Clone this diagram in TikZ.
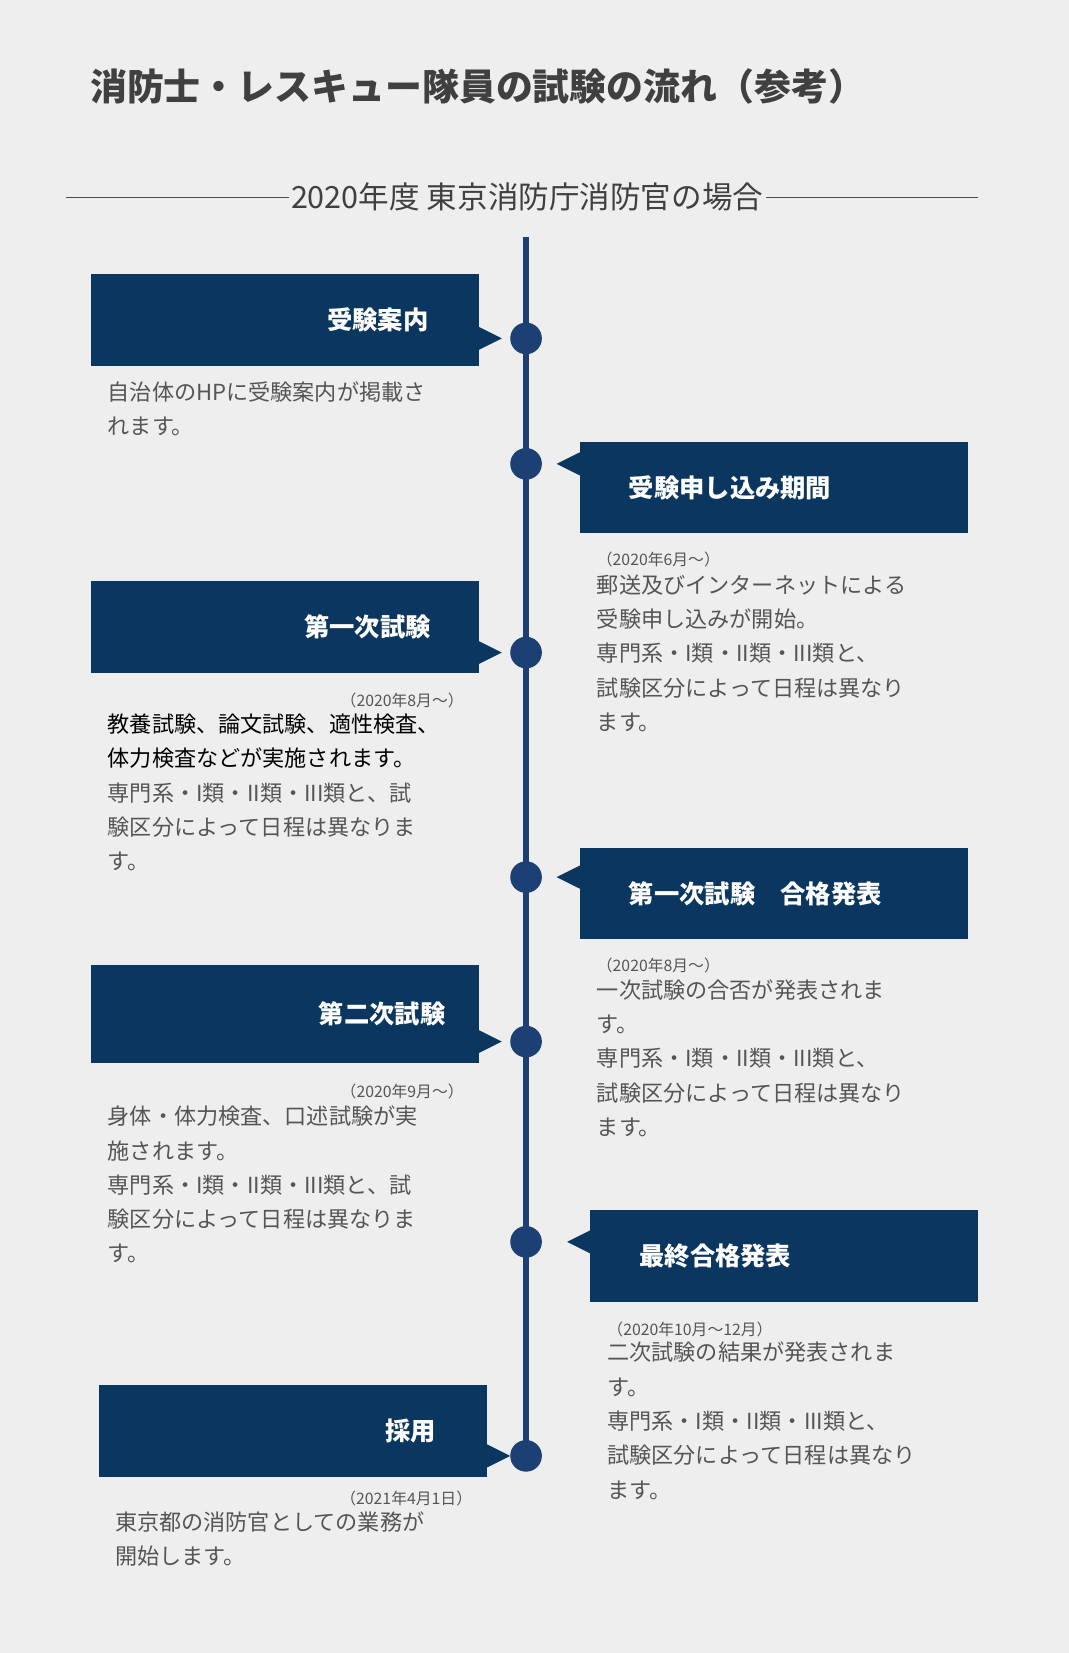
\documentclass[tikz,border=0pt]{standalone}
\usepackage{fontspec}
\setmainfont{Noto Sans CJK JP}
\newfontfamily\jpb{Noto Sans CJK JP}[BoldFont={Noto Sans CJK JP Bold}]
\definecolor{bg}{HTML}{EEEEEE}
\definecolor{boxc}{HTML}{0B365F}
\definecolor{linec}{HTML}{1C3F74}
\definecolor{txt}{HTML}{555555}
\begin{document}
\begin{tikzpicture}[x=1pt,y=-1pt,
  hbox/.style={fill=boxc,draw=none},
  htxt/.style={text=white,font=\fontsize{24}{28}\selectfont\bfseries},
  body/.style={text=txt,font=\fontsize{21}{32.5}\selectfont,align=left,anchor=north west,inner sep=0pt},
  date/.style={text=txt,font=\fontsize{15}{18}\selectfont,inner sep=0pt},
  dot/.style={circle,fill=linec,minimum size=30pt,inner sep=0pt}]
\fill[bg] (0,0) rectangle (1014,1568);
\useasboundingbox (0,0) rectangle (1014,1568);
\node[anchor=west,text=black!75,font=\fontsize{35}{40}\selectfont\bfseries] (title) at (82,82) {消防士・レスキュー隊員の試験の流れ（参考）};
\node[text=black!75,font=\fontsize{29}{34}\selectfont,inner sep=2pt] (sub) at (500,187) {2020年度 東京消防庁消防官の場合};
\coordinate (l1) at (63,187); \coordinate (r1) at (928,187);
\draw[black!70,line width=1pt] (l1) -- (sub.west) (sub.east) -- (r1);
\coordinate (ttop) at (499,225); \coordinate (tbot) at (499,1385);
\draw[linec,line width=5pt] (ttop) -- (tbot);
% left boxes
\foreach \n/\y/\h/\d/\xo/\t/\tx in {a/260/87/321/0/受験案内/410, c/551/87/619/0/第一次試験/412, e/915/93/988/0/第二次試験/426, g/1314/87/1381/8/採用/417}{
  \fill[hbox] (86+\xo,\y) rectangle (454+\xo,\y+\h);
  \fill[hbox] (454+\xo,\d-11) -- (476+\xo,\d) -- (454+\xo,\d+11) -- cycle;
  \node[dot] (d\n) at (499,\d) {};
  \node[htxt,anchor=east] (t\n) at (\tx,\y+\h/2) {\t};
}
\foreach \n/\y/\d/\xo/\t in {b/419/440/0/受験申し込み期間, dd/804/832/0/第一次試験　合格発表, f/1148/1178/10/最終合格発表}{
  \fill[hbox] (550+\xo,\y) rectangle (918+\xo,\y+87);
  \fill[hbox] (550+\xo,\d-11) -- (528+\xo,\d) -- (550+\xo,\d+11) -- cycle;
  \node[dot] (d\n) at (499,\d) {};
  \node[htxt,anchor=west] (t\n) at (593+\xo,\y+43.5) {\t};
}
% texts
\node[body] (xa) at (102,362) {自治体のHPに受験案内が掲載さ\\れます。};
\node[date,anchor=east] (da) at (440,664) {（2020年8月～）};
\node[body] (xc) at (102,677) {\textcolor{black}{教養試験、論文試験、適性検査、}\\\textcolor{black}{体力検査などが実施されます。}\\専門系・I類・II類・III類と、試\\験区分によって日程は異なりま\\す。};
\node[date,anchor=west] (db) at (566,531) {（2020年6月～）};
\node[body] (xb) at (566,545) {郵送及びインターネットによる\\受験申し込みが開始。\\専門系・I類・II類・III類と、\\試験区分によって日程は異なり\\ます。};
\node[date,anchor=west] (ddd) at (566,916) {（2020年8月～）};
\node[body] (xdd) at (566,929) {一次試験の合否が発表されま\\す。\\専門系・I類・II類・III類と、\\試験区分によって日程は異なり\\ます。};
\node[date,anchor=east] (de) at (440,1035) {（2020年9月～）};
\node[body] (xe) at (102,1049) {身体・体力検査、口述試験が実\\施されます。\\専門系・I類・II類・III類と、試\\験区分によって日程は異なりま\\す。};
\node[date,anchor=west] (df) at (576,1261) {（2020年10月～12月）};
\node[body] (xf) at (576,1273) {二次試験の結果が発表されま\\す。\\専門系・I類・II類・III類と、\\試験区分によって日程は異なり\\ます。};
\node[date,anchor=east] (dg) at (448,1421) {（2021年4月1日）};
\node[body] (xg) at (109,1434) {東京都の消防官としての業務が\\開始します。};
\end{tikzpicture}
\end{document}
